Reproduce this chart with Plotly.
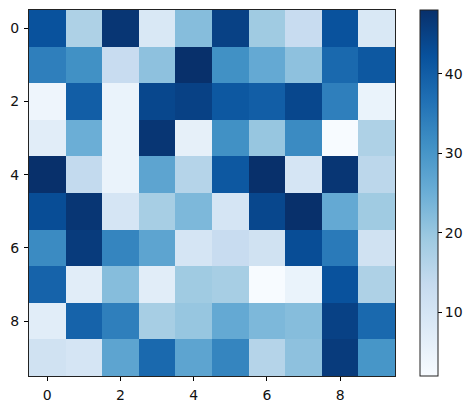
import plotly.graph_objects as go

values = [
    [42, 17, 47, 9, 22, 45, 19, 13, 42, 9],
    [34, 31, 13, 21, 48, 31, 26, 21, 38, 41],
    [4, 40, 5, 44, 45, 41, 40, 44, 34, 5],
    [7, 25, 5, 47, 6, 31, 20, 32, 2, 17],
    [48, 14, 5, 27, 16, 41, 48, 10, 47, 15],
    [43, 47, 10, 18, 23, 10, 44, 48, 26, 19],
    [32, 46, 33, 27, 10, 13, 11, 43, 35, 11],
    [39, 7, 22, 7, 19, 18, 2, 5, 42, 17],
    [7, 39, 34, 18, 20, 26, 23, 22, 45, 38],
    [11, 10, 27, 38, 27, 33, 16, 21, 46, 30],
]
axis_ticks = [0, 2, 4, 6, 8]
cbar_ticks = [10, 20, 30, 40]
blues = ["#f7fbff", "#deebf7", "#c6dbef", "#9ecae1", "#6baed6",
         "#4292c6", "#2171b5", "#08519c", "#08306b"]

W, H = 474, 409
left, right = 29, 395
top, bottom = 10, 376

fig = go.Figure(go.Heatmap(
    z=values,
    zmin=2,
    zmax=48,
    colorscale=blues,
    colorbar=dict(
        x=(420 - left) / (right - left),
        xanchor="left",
        y=0,
        yanchor="bottom",
        len=1,
        lenmode="fraction",
        thickness=18,
        thicknessmode="pixels",
        xpad=0,
        ypad=0,
        tickvals=cbar_ticks,
        ticks="outside",
        ticklen=4,
        tickwidth=1,
        tickcolor="black",
        outlinecolor="#222222",
        outlinewidth=1,
        tickfont=dict(family="DejaVu Sans", size=14, color="#111111"),
    ),
))

axis_style = dict(
    tickvals=axis_ticks,
    ticks="outside",
    ticklen=4,
    tickwidth=1,
    tickcolor="black",
    showline=True,
    mirror=True,
    linecolor="#222222",
    linewidth=1,
    showgrid=False,
    zeroline=False,
    ticklabelstandoff=2,
    tickfont=dict(family="DejaVu Sans", size=14, color="#111111"),
)
fig.update_xaxes(range=[-0.5, 9.5], **axis_style)
fig.update_yaxes(range=[9.5, -0.5], **axis_style)

fig.update_layout(
    width=W,
    height=H,
    margin=dict(l=left, r=W - right, t=top, b=H - bottom, autoexpand=False),
    paper_bgcolor="white",
    plot_bgcolor="white",
)

# the page has a default 8px body margin, drop it so the chart sits at 0,0
fig.write_html(
    "out.html",
    config={"displayModeBar": False},
    post_script="document.body.style.margin='0';",
)
